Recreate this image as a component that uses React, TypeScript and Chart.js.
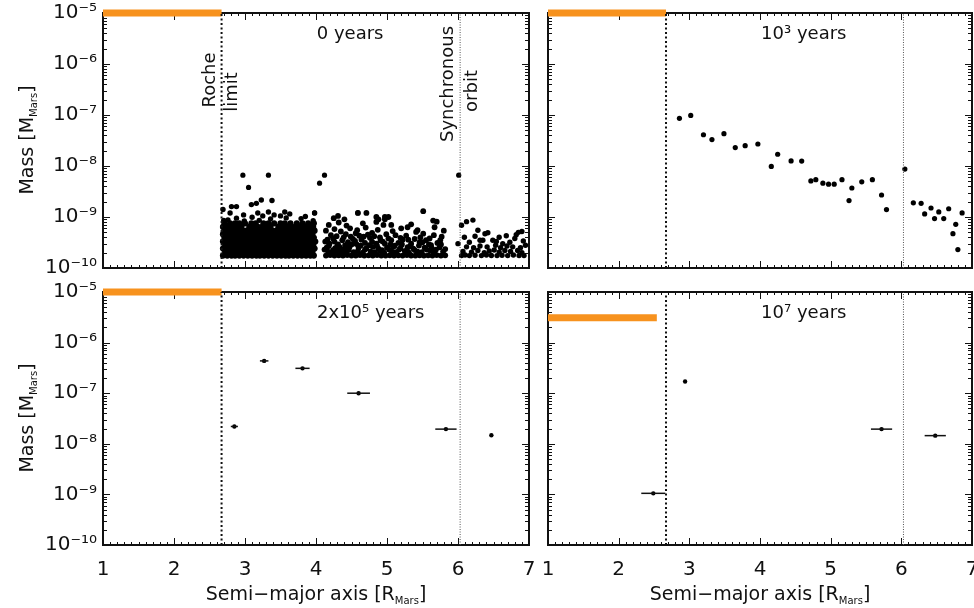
import React, { useEffect, useRef } from "react";
import { Chart, registerables } from "chart.js";

Chart.register(...registerables);

const FONT = "'DejaVu Sans', 'Noto Sans', sans-serif";
const ORANGE = "#f7921e";

// ---- axes ----
const xMin = 1;
const xMax = 7;
const xTickValues = [1, 2, 3, 4, 5, 6, 7];
const xTickLabels = ["1", "2", "3", "4", "5", "6", "7"];
const yMin = 1e-10;
const yMax = 1e-5;
const yTickValues = [1e-10, 1e-9, 1e-8, 1e-7, 1e-6, 1e-5];
const yTickLabels = ["10⁻¹⁰", "10⁻⁹", "10⁻⁸", "10⁻⁷", "10⁻⁶", "10⁻⁵"];

// ---- reference lines ----
const rocheLimit = 2.67;
const synchronousOrbit = 6.03;

// ---- panel titles ----
const panelTitles = ["0 years", "10³ years", "2x10⁵ years", "10⁷ years"];
const panelTitleA = [4.48, 4.62, 4.77, 4.62];

// ---- orange segment per panel ----
const barStartA = [1, 1, 1, 1];
const barEndA = [2.67, 2.67, 2.67, 2.54];
const barMass = [1e-5, 1e-5, 1e-5, 3.1e-6];

// ---- panel 0 (0 years): dense debris disk ----
const debrisRowMass = [1.75e-10, 2.05e-10, 2.4e-10, 2.8e-10, 3.3e-10, 3.9e-10, 4.6e-10, 5.4e-10, 6.4e-10, 7.5e-10];
const debrisRowA = [
  [2.69, 2.75, 2.81, 2.86, 2.92, 2.98, 3.04, 3.10, 3.16, 3.21, 3.27, 3.33, 3.39, 3.45, 3.51, 3.57, 3.62, 3.68, 3.74, 3.80, 3.86, 3.92, 3.97],
  [2.72, 2.78, 2.84, 2.89, 2.95, 3.01, 3.07, 3.13, 3.19, 3.24, 3.30, 3.36, 3.42, 3.48, 3.54, 3.60, 3.65, 3.71, 3.77, 3.83, 3.89, 3.95],
  [2.69, 2.75, 2.80, 2.87, 2.93, 2.99, 3.05, 3.10, 3.16, 3.22, 3.28, 3.34, 3.40, 3.45, 3.51, 3.57, 3.63, 3.69, 3.75, 3.81, 3.87, 3.93, 3.98],
  [2.72, 2.78, 2.83, 2.90, 2.96, 3.02, 3.08, 3.13, 3.19, 3.25, 3.31, 3.37, 3.43, 3.48, 3.54, 3.60, 3.66, 3.72, 3.78, 3.84, 3.90, 3.96],
  [2.69, 2.74, 2.81, 2.87, 2.93, 2.98, 3.05, 3.11, 3.16, 3.22, 3.28, 3.34, 3.40, 3.46, 3.52, 3.58, 3.63, 3.69, 3.75, 3.81, 3.88, 3.94, 3.99],
  [2.71, 2.77, 2.84, 2.90, 2.95, 3.01, 3.08, 3.14, 3.19, 3.25, 3.31, 3.37, 3.43, 3.49, 3.55, 3.61, 3.67, 3.72, 3.78, 3.85, 3.91, 3.97],
  [2.69, 2.75, 2.81, 2.88, 2.93, 2.99, 3.04, 3.11, 3.17, 3.23, 3.29, 3.35, 3.40, 3.46, 3.52, 3.59, 3.64, 3.70, 3.76, 3.82, 3.88, 3.95],
  [2.72, 2.78, 2.85, 2.91, 2.97, 3.02, 3.08, 3.14, 3.21, 3.27, 3.32, 3.38, 3.44, 3.50, 3.56, 3.62, 3.68, 3.74, 3.80, 3.86, 3.92, 3.98],
  [2.69, 2.76, 2.82, 2.88, 2.95, 3.06, 3.12, 3.18, 3.24, 3.30, 3.36, 3.47, 3.53, 3.59, 3.66, 3.71, 3.78, 3.84, 3.90, 3.96],
  [2.71, 2.79, 2.86, 2.92, 3.00, 3.09, 3.15, 3.26, 3.33, 3.41, 3.50, 3.56, 3.64, 3.73, 3.81, 3.89, 3.97],
];
const debrisInnerTop: [number, number][] = [
  [2.70, 8.6e-10], [2.76, 8.8e-10], [2.88, 9.5e-10], [2.99, 8.4e-10], [3.10, 9.9e-10], [3.20, 8.6e-10],
  [3.25, 1.05e-9], [3.36, 9.2e-10], [3.41, 1.1e-9], [3.58, 9.6e-10], [3.63, 1.15e-9], [3.79, 9.3e-10],
  [3.85, 1.02e-9], [3.96, 8.5e-10], [2.69, 1.4e-9], [2.79, 1.2e-9], [2.98, 1.1e-9], [3.18, 1.2e-9],
  [3.33, 1.25e-9], [3.50, 1.05e-9], [3.56, 1.25e-9], [3.98, 1.2e-9], [2.81, 1.6e-9], [2.88, 1.6e-9],
  [3.09, 1.75e-9], [3.16, 1.85e-9], [3.23, 2.15e-9], [3.38, 2.1e-9],
];
const debrisMiddle: [number, number][] = [
  [4.14, 1.75e-10], [4.20, 1.8e-10], [4.26, 1.75e-10], [4.32, 1.78e-10], [4.38, 1.75e-10], [4.44, 1.8e-10],
  [4.50, 1.76e-10], [4.56, 1.75e-10], [4.62, 1.79e-10], [4.68, 1.75e-10], [4.74, 1.77e-10], [4.80, 1.75e-10],
  [4.86, 1.8e-10], [4.92, 1.76e-10], [4.98, 1.75e-10], [5.04, 1.78e-10], [5.10, 1.75e-10], [5.16, 1.77e-10],
  [5.22, 1.75e-10], [5.28, 1.8e-10], [5.34, 1.76e-10], [5.40, 1.75e-10], [5.46, 1.78e-10], [5.52, 1.75e-10],
  [5.58, 1.77e-10], [5.64, 1.75e-10], [5.70, 1.79e-10], [5.76, 1.75e-10], [5.82, 1.77e-10],
  [4.17, 2.1e-10], [4.23, 2.05e-10], [4.29, 2.15e-10], [4.36, 2.0e-10], [4.42, 2.1e-10], [4.53, 2.05e-10],
  [4.59, 2.15e-10], [4.66, 2.0e-10], [4.77, 2.1e-10], [4.83, 2.05e-10], [4.90, 2.2e-10], [4.96, 2.0e-10],
  [5.07, 2.1e-10], [5.13, 2.05e-10], [5.25, 2.15e-10], [5.31, 2.0e-10], [5.43, 2.1e-10], [5.49, 2.05e-10],
  [5.61, 2.2e-10], [5.67, 2.0e-10], [5.79, 2.1e-10],
  [4.15, 2.5e-10], [4.27, 2.45e-10], [4.33, 2.6e-10], [4.40, 2.4e-10], [4.47, 2.55e-10], [4.60, 2.5e-10],
  [4.71, 2.45e-10], [4.80, 2.6e-10], [4.88, 2.4e-10], [5.00, 2.5e-10], [5.09, 2.6e-10], [5.19, 2.45e-10],
  [5.29, 2.55e-10], [5.37, 2.4e-10], [5.53, 2.5e-10], [5.63, 2.45e-10], [5.74, 2.55e-10],
  [4.19, 3.0e-10], [4.31, 2.9e-10], [4.45, 3.2e-10], [4.57, 2.95e-10], [4.69, 3.1e-10], [4.85, 3.0e-10],
  [4.94, 3.3e-10], [5.05, 2.9e-10], [5.16, 3.1e-10], [5.34, 3.0e-10], [5.46, 3.2e-10], [5.59, 2.9e-10],
  [5.71, 3.1e-10],
  [4.16, 3.6e-10], [4.24, 3.8e-10], [4.37, 3.5e-10], [4.52, 3.7e-10], [4.64, 3.6e-10], [4.76, 3.9e-10],
  [4.91, 3.5e-10], [5.02, 3.8e-10], [5.22, 3.6e-10], [5.39, 3.7e-10], [5.55, 3.5e-10], [5.77, 4.1e-10],
  [4.21, 4.4e-10], [4.29, 4.2e-10], [4.42, 4.6e-10], [4.61, 4.3e-10], [4.73, 4.5e-10], [4.82, 4.2e-10],
  [4.99, 4.6e-10], [5.12, 4.4e-10], [5.27, 4.3e-10], [5.41, 5.1e-10], [5.51, 4.7e-10], [5.66, 4.4e-10],
  [4.14, 5.4e-10], [4.26, 5.8e-10], [4.35, 5.2e-10], [4.48, 6.0e-10], [4.58, 5.5e-10], [4.70, 6.2e-10],
  [4.87, 5.6e-10], [4.95, 7.0e-10], [5.08, 5.3e-10], [5.20, 6.0e-10], [5.29, 6.3e-10], [5.43, 5.5e-10],
  [5.67, 6.3e-10], [5.80, 5.4e-10],
  [4.18, 7.0e-10], [4.32, 7.8e-10], [4.43, 6.8e-10], [4.66, 7.5e-10], [4.85, 8.0e-10], [4.97, 9.0e-10],
  [5.06, 7.0e-10], [5.70, 8.1e-10], [5.34, 7.2e-10], [5.65, 8.5e-10], [4.88, 9.0e-10],
  [4.31, 1.05e-9], [4.59, 1.2e-9], [4.71, 1.2e-9], [4.85, 1.0e-9], [4.97, 1.0e-9], [5.02, 1.0e-9],
  [5.51, 1.3e-9], [4.40, 9.0e-10], [4.25, 9.5e-10],
];
const debrisMiddleFill: [number, number][] = [
  [4.12, 2.3e-10], [4.18, 2.7e-10], [4.24, 2.25e-10], [4.30, 2.7e-10], [4.35, 2.3e-10], [4.41, 2.8e-10],
  [4.46, 2.25e-10], [4.50, 2.9e-10], [4.55, 3.4e-10], [4.63, 2.75e-10], [4.69, 2.3e-10], [4.75, 2.8e-10],
  [4.79, 3.3e-10], [4.86, 2.7e-10], [4.93, 2.25e-10], [4.97, 3.0e-10], [5.03, 2.3e-10], [5.11, 2.75e-10],
  [5.17, 2.3e-10], [5.21, 2.9e-10], [5.28, 2.25e-10], [5.33, 2.7e-10], [5.39, 2.25e-10], [5.45, 2.75e-10],
  [5.50, 3.2e-10], [5.56, 2.3e-10], [5.62, 2.8e-10], [5.69, 2.3e-10], [5.76, 2.9e-10], [5.82, 2.35e-10],
  [4.13, 3.3e-10], [4.26, 3.3e-10], [4.39, 4.0e-10], [4.49, 4.1e-10], [4.56, 4.8e-10], [4.67, 4.1e-10],
  [4.79, 4.9e-10], [4.90, 4.0e-10], [5.06, 3.5e-10], [5.19, 3.9e-10], [5.30, 3.6e-10], [5.47, 4.0e-10],
  [5.60, 3.8e-10], [5.75, 3.5e-10],
];
const debrisOuter: [number, number][] = [
  [6.05, 1.75e-10], [6.10, 1.8e-10], [6.16, 1.75e-10], [6.24, 1.78e-10], [6.33, 1.75e-10], [6.40, 1.8e-10],
  [6.47, 1.76e-10], [6.55, 1.75e-10], [6.62, 1.78e-10], [6.70, 1.75e-10], [6.78, 1.8e-10], [6.86, 1.76e-10],
  [6.93, 1.75e-10],
  [6.07, 2.1e-10], [6.19, 2.05e-10], [6.28, 2.2e-10], [6.37, 2.0e-10], [6.44, 2.15e-10], [6.51, 2.25e-10],
  [6.58, 2.05e-10], [6.66, 2.2e-10], [6.74, 2.1e-10], [6.84, 2.2e-10], [6.90, 2.0e-10],
  [6.12, 2.6e-10], [6.22, 2.5e-10], [6.31, 2.7e-10], [6.41, 2.6e-10], [6.53, 2.8e-10], [6.60, 2.5e-10],
  [6.69, 2.7e-10], [6.77, 2.6e-10], [6.88, 2.5e-10], [6.95, 2.8e-10],
  [6.00, 3.0e-10], [6.16, 3.2e-10], [6.31, 3.5e-10], [6.35, 3.5e-10], [6.49, 3.5e-10], [6.54, 3.3e-10],
  [6.63, 3.0e-10], [6.73, 3.2e-10], [6.80, 3.8e-10], [6.82, 4.5e-10], [6.92, 3.4e-10], [6.09, 4.0e-10],
  [6.24, 4.2e-10], [6.38, 4.7e-10], [6.42, 4.9e-10], [6.58, 4.0e-10], [6.68, 4.3e-10],
  [6.05, 6.9e-10], [6.12, 8.1e-10], [6.21, 8.7e-10], [6.28, 5.5e-10], [6.90, 5.2e-10], [6.85, 5.0e-10],
];
const debrisOutliers: [number, number][] = [
  [2.97, 6.6e-9], [3.33, 6.6e-9], [3.05, 3.8e-9], [4.05, 4.6e-9], [4.12, 6.6e-9], [6.01, 6.6e-9],
  [3.98, 1.2e-9], [4.59, 1.2e-9],
];

// ---- panel 1 (10^3 years) ----
const moons1e3A = [2.86, 3.02, 3.20, 3.32, 3.49, 3.65, 3.79, 3.97, 4.16, 4.25, 4.44, 4.59, 4.72, 4.79, 4.89, 4.97, 5.05, 5.16, 5.26, 5.30, 5.44, 5.59, 5.72, 5.79, 6.05, 6.17, 6.28, 6.33, 6.42, 6.47, 6.53, 6.60, 6.67, 6.73, 6.77, 6.80, 6.86];
const moons1e3M = [8.6e-8, 9.8e-8, 4.1e-8, 3.3e-8, 4.3e-8, 2.3e-8, 2.5e-8, 2.7e-8, 9.8e-9, 1.7e-8, 1.26e-8, 1.25e-8, 5.1e-9, 5.4e-9, 4.6e-9, 4.4e-9, 4.4e-9, 5.4e-9, 2.1e-9, 3.7e-9, 4.9e-9, 5.4e-9, 2.7e-9, 1.4e-9, 8.7e-9, 1.9e-9, 1.85e-9, 1.15e-9, 1.5e-9, 9.3e-10, 1.26e-9, 9.3e-10, 1.45e-9, 4.7e-10, 7.2e-10, 2.3e-10, 1.2e-9];

// ---- panel 2 (2x10^5 years) ----
const moons2e5A = [2.85, 3.27, 3.81, 4.60, 5.83, 6.47];
const moons2e5M = [2.2e-8, 4.35e-7, 3.1e-7, 1.0e-7, 1.95e-8, 1.48e-8];
const moons2e5Err = [0.05, 0.06, 0.10, 0.16, 0.15, 0.0];

// ---- panel 3 (10^7 years) ----
const moons1e7A = [2.49, 2.94, 5.72, 6.48];
const moons1e7M = [1.05e-9, 1.7e-7, 1.95e-8, 1.45e-8];
const moons1e7Err = [0.17, 0.0, 0.15, 0.15];

type Note = { text: string; a: number; yOff: number };
const rocheNotes: Note[] = [
  { text: "Roche", a: 2.51, yOff: 67 },
  { text: "limit", a: 2.82, yOff: 79 },
  { text: "Synchronous", a: 5.86, yOff: 71 },
  { text: "orbit", a: 6.20, yOff: 78 },
];

const panels = [
  { left: 0, top: 0, width: 540, height: 280, yAxisW: 103, xAxisH: 12, padTop: 13, padRight: 11, showX: false, showY: true },
  { left: 540, top: 0, width: 434, height: 280, yAxisW: 8, xAxisH: 12, padTop: 13, padRight: 2, showX: false, showY: false },
  { left: 0, top: 280, width: 540, height: 328, yAxisW: 103, xAxisH: 63, padTop: 12, padRight: 11, showX: true, showY: true },
  { left: 540, top: 280, width: 434, height: 328, yAxisW: 8, xAxisH: 63, padTop: 12, padRight: 2, showX: true, showY: false },
];

const pts = (pairs: [number, number][]) => pairs.map(([x, y]) => ({ x, y }));

function scatterSet(data: { x: number; y: number }[], r = 2.6) {
  return {
    data,
    showLine: false,
    pointRadius: r,
    pointHoverRadius: r,
    pointBackgroundColor: "#000",
    pointBorderWidth: 0,
    borderWidth: 0,
  };
}

function lineSet(data: { x: number; y: number }[], color: string, width: number, dash: number[] = []) {
  return {
    data,
    showLine: true,
    borderColor: color,
    borderWidth: width,
    borderDash: dash,
    borderCapStyle: "butt",
    pointRadius: 0,
    pointHoverRadius: 0,
    clip: false as const,
  };
}

function buildDatasets(i: number) {
  const ds: any[] = [];
  ds.push(lineSet([{ x: rocheLimit, y: yMin }, { x: rocheLimit, y: yMax }], "#111", 2, [2, 2.5]));
  ds.push(lineSet([{ x: synchronousOrbit, y: yMin }, { x: synchronousOrbit, y: yMax }], "#555", 1, [1, 1.5]));
  if (i === 0) {
    const rows = debrisRowA.flatMap((row, k) => row.map((a) => ({ x: a, y: debrisRowMass[k] })));
    ds.push(scatterSet(rows, 3.1));
    ds.push(scatterSet(pts(debrisInnerTop), 2.7));
    ds.push(scatterSet(pts(debrisMiddle), 2.9));
    ds.push(scatterSet(pts(debrisMiddleFill), 2.9));
    ds.push(scatterSet(pts(debrisOuter), 2.7));
    ds.push(scatterSet(pts(debrisOutliers), 2.6));
  } else if (i === 1) {
    ds.push(scatterSet(moons1e3A.map((a, k) => ({ x: a, y: moons1e3M[k] }))));
  } else {
    const A = i === 2 ? moons2e5A : moons1e7A;
    const M = i === 2 ? moons2e5M : moons1e7M;
    const E = i === 2 ? moons2e5Err : moons1e7Err;
    A.forEach((a, k) => {
      if (E[k] > 0) ds.push(lineSet([{ x: a - E[k], y: M[k] }, { x: a + E[k], y: M[k] }], "#111", 1.5));
    });
    ds.push(scatterSet(A.map((a, k) => ({ x: a, y: M[k] })), 2.2));
  }
  ds.push(lineSet([{ x: barStartA[i], y: barMass[i] }, { x: barEndA[i], y: barMass[i] }], ORANGE, 7));
  return ds;
}

const framePlugin = {
  id: "frameTicks",
  beforeDatasetsDraw(chart: any) {
    const { ctx, chartArea: a } = chart;
    const xs = chart.scales.x;
    const ys = chart.scales.y;
    ctx.save();
    ctx.strokeStyle = "#111";
    ctx.lineWidth = 1;
    ctx.beginPath();
    for (let i = 0; i <= 60; i++) {
      const v = xMin + i / 10;
      const px = Math.round(xs.getPixelForValue(v)) + 0.5;
      const len = i % 10 === 0 ? 7 : 3;
      ctx.moveTo(px, a.bottom);
      ctx.lineTo(px, a.bottom - len);
      ctx.moveTo(px, a.top);
      ctx.lineTo(px, a.top + len);
    }
    for (let d = -10; d <= -5; d++) {
      for (let k = 1; k <= 9; k++) {
        const v = k * Math.pow(10, d);
        if (v > yMax * 1.0001) break;
        const py = Math.round(ys.getPixelForValue(v)) + 0.5;
        const len = k === 1 ? 7 : 4;
        ctx.moveTo(a.left, py);
        ctx.lineTo(a.left + len, py);
        ctx.moveTo(a.right, py);
        ctx.lineTo(a.right - len, py);
      }
    }
    ctx.stroke();
    ctx.lineWidth = 2;
    ctx.strokeRect(a.left, a.top, a.right - a.left, a.bottom - a.top);
    ctx.restore();
  },
  afterDatasetsDraw(chart: any, _args: any, opts: any) {
    const { ctx, chartArea: a } = chart;
    const xs = chart.scales.x;
    ctx.save();
    ctx.fillStyle = "#111";
    ctx.font = `18px ${FONT}`;
    ctx.textAlign = "center";
    ctx.textBaseline = "middle";
    if (opts.title) ctx.fillText(opts.title, xs.getPixelForValue(opts.titleA), a.top + opts.titleOff);
    (opts.notes || []).forEach((n: Note) => {
      ctx.save();
      ctx.translate(xs.getPixelForValue(n.a), a.top + n.yOff);
      ctx.rotate(-Math.PI / 2);
      ctx.fillText(n.text, 0, 0);
      ctx.restore();
    });
    ctx.restore();
  },
};

function zeroPad(ax: any) {
  ax.paddingTop = 0;
  ax.paddingBottom = 0;
  ax.paddingLeft = 0;
  ax.paddingRight = 0;
}

function Panel({ index }: { index: number }) {
  const ref = useRef<HTMLCanvasElement | null>(null);
  const p = panels[index];
  useEffect(() => {
    if (!ref.current) return;
    const chart = new Chart(ref.current, {
      type: "scatter",
      data: { datasets: buildDatasets(index) },
      plugins: [framePlugin],
      options: {
        responsive: false,
        animation: false,
        devicePixelRatio: 1,
        events: [],
        layout: { autoPadding: false, padding: { left: 0, top: p.padTop, right: p.padRight, bottom: 0 } },
        plugins: {
          legend: { display: false },
          tooltip: { enabled: false },
          frameTicks: {
            title: panelTitles[index],
            titleA: panelTitleA[index],
            titleOff: 21,
            notes: index === 0 ? rocheNotes : [],
          },
        } as any,
        scales: {
          x: {
            type: "linear",
            min: xMin,
            max: xMax,
            afterBuildTicks: (ax: any) => {
              ax.ticks = xTickValues.map((v) => ({ value: v }));
            },
            afterFit: (ax: any) => {
              ax.height = p.xAxisH;
              zeroPad(ax);
            },
            grid: { display: false, drawTicks: false },
            border: { display: false },
            ticks: {
              display: p.showX,
              autoSkip: false,
              maxRotation: 0,
              padding: 13,
              color: "#111",
              font: { family: FONT, size: 20 },
              callback: (_v: any, i: number) => xTickLabels[i],
            },
          },
          y: {
            type: "logarithmic",
            min: yMin,
            max: yMax,
            afterBuildTicks: (ax: any) => {
              ax.ticks = yTickValues.map((v) => ({ value: v }));
            },
            afterFit: (ax: any) => {
              ax.width = p.yAxisW;
              zeroPad(ax);
            },
            grid: { display: false, drawTicks: false },
            border: { display: false },
            ticks: {
              display: p.showY,
              autoSkip: false,
              padding: 6,
              color: "#111",
              font: { family: FONT, size: 20 },
              callback: (_v: any, i: number) => yTickLabels[i],
            },
          },
        },
      } as any,
    });
    return () => chart.destroy();
  }, [index]);
  return (
    <canvas
      ref={ref}
      width={p.width}
      height={p.height}
      style={{ position: "absolute", left: p.left, top: p.top, width: p.width, height: p.height }}
    />
  );
}

const subStyle: React.CSSProperties = { fontSize: 10, verticalAlign: "-4px", lineHeight: 0 };

function YTitle({ cy }: { cy: number }) {
  return (
    <div
      style={{
        position: "absolute",
        left: 26,
        top: cy,
        transform: "translate(-50%, -50%) rotate(-90deg)",
        whiteSpace: "nowrap",
        fontFamily: FONT,
        fontSize: 19,
        color: "#111",
        lineHeight: "22px",
      }}
    >
      Mass [M<sub style={subStyle}>Mars</sub>]
    </div>
  );
}

function XTitle({ cx }: { cx: number }) {
  return (
    <div
      style={{
        position: "absolute",
        left: cx,
        top: 593,
        transform: "translate(-50%, -50%)",
        whiteSpace: "nowrap",
        fontFamily: FONT,
        fontSize: 19,
        color: "#111",
        lineHeight: "22px",
      }}
    >
      Semi−major axis [R<sub style={subStyle}>Mars</sub>]
    </div>
  );
}

export default function App() {
  return (
    <div
      style={{
        position: "fixed",
        left: 0,
        top: 0,
        width: 974,
        height: 608,
        overflow: "hidden",
        background: "#fff",
      }}
    >
      <Panel index={0} />
      <Panel index={1} />
      <Panel index={2} />
      <Panel index={3} />
      <YTitle cy={140} />
      <YTitle cy={418} />
      <XTitle cx={316} />
      <XTitle cx={760} />
    </div>
  );
}
